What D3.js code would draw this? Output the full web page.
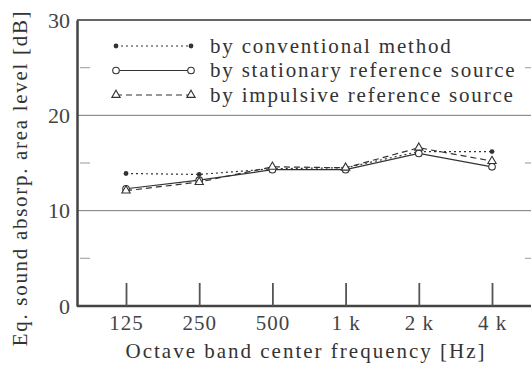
<!DOCTYPE html>
<html>
<head>
<meta charset="utf-8">
<script src="https://cdn.jsdelivr.net/npm/d3@7"></script>
<style>
  body { margin: 0; background: #fff; }
  text { font-family: "Liberation Serif", "Times New Roman", serif; fill: #333; }
</style>
</head>
<body>
<div class="visHolder"></div>
<script>
// data
var bands = ["125", "250", "500", "1 k", "2 k", "4 k"];
var conventional = [13.9, 13.8, 14.4, 14.5, 16.2, 16.2];
var stationary = [12.3, 13.2, 14.3, 14.3, 16.0, 14.6];
var impulsive = [12.1, 13.0, 14.6, 14.5, 16.6, 15.2];
var yTicks = [0, 10, 20, 30];
var yMinor = [5, 15, 25];
var legendLabels = ["by conventional method", "by stationary reference source", "by impulsive reference source"];

var W = 531, H = 368;
var plotLeft = 77, plotRight = 531, plotTop = 20, plotBottom = 306;

var svg = d3.select(".visHolder")
    .append("svg")
    .attr("width", W)
    .attr("height", H);

var x = d3.scalePoint().domain(bands).range([126, 492]);
var y = d3.scaleLinear().domain([0, 30]).range([plotBottom, plotTop]);

// gridlines at 10 and 20
svg.selectAll(".grid")
    .data([10, 20])
    .enter()
    .append("line")
    .attr("x1", plotLeft).attr("x2", plotRight)
    .attr("y1", (d) => y(d)).attr("y2", (d) => y(d))
    .style("stroke", "#777")
    .style("stroke-width", 1);

// top frame line
svg.append("line")
    .attr("x1", plotLeft).attr("x2", plotRight)
    .attr("y1", y(30)).attr("y2", y(30))
    .style("stroke", "#666")
    .style("stroke-width", 2);

// minor ticks left and right
svg.selectAll(".minorL")
    .data(yMinor)
    .enter()
    .append("line")
    .attr("x1", plotLeft + 3).attr("x2", plotLeft + 13)
    .attr("y1", (d) => y(d)).attr("y2", (d) => y(d))
    .style("stroke", "#aaa")
    .style("stroke-width", 1.2);

svg.selectAll(".minorR")
    .data(yMinor)
    .enter()
    .append("line")
    .attr("x1", plotRight - 6).attr("x2", plotRight)
    .attr("y1", (d) => y(d)).attr("y2", (d) => y(d))
    .style("stroke", "#aaa")
    .style("stroke-width", 1.2);

// y axis
var yAxis = svg.append("g")
    .attr("transform", `translate(${plotLeft},0)`)
    .call(d3.axisLeft(y).tickValues(yTicks).tickSize(0).tickPadding(7));
yAxis.select(".domain").style("stroke", "#444").style("stroke-width", 2.5);
yAxis.selectAll("text").style("font-size", "22px").style("fill", "#444");

// x axis with ticks pointing inward
var xAxis = svg.append("g")
    .attr("transform", `translate(0,${plotBottom})`)
    .call(d3.axisBottom(x).tickSize(-23).tickPadding(8).tickSizeOuter(0));
xAxis.select(".domain").attr("d", `M${plotLeft},0H${plotRight}`).style("stroke", "#444").style("stroke-width", 2.5);
xAxis.selectAll(".tick line").style("stroke", "#555").style("stroke-width", 1.8);
xAxis.selectAll("text").style("font-size", "21px").style("fill", "#444")
    .style("letter-spacing", "1px").attr("dy", "0.75em");

// axis titles
svg.append("text")
    .text("Octave band center frequency  [Hz]")
    .attr("x", 306)
    .attr("y", 358)
    .style("text-anchor", "middle")
    .style("font-size", "21px")
    .style("letter-spacing", "2px");

svg.append("text")
    .text("Eq. sound absorp. area level [dB]")
    .attr("transform", "translate(27,178) rotate(-90)")
    .style("text-anchor", "middle")
    .style("font-size", "21px")
    .style("letter-spacing", "1.7px");

var series = [
    { name: legendLabels[0], values: conventional, dash: "2,3", marker: "dot" },
    { name: legendLabels[1], values: stationary, dash: null, marker: "circle" },
    { name: legendLabels[2], values: impulsive, dash: "6,4", marker: "triangle" }
];

var line = d3.line()
    .x((d, i) => x(bands[i]))
    .y((d) => y(d));

function drawMarker(g, type, cx, cy) {
    if (type === "dot") {
        g.append("circle").attr("cx", cx).attr("cy", cy).attr("r", 2.4)
            .style("fill", "#333");
    } else if (type === "circle") {
        g.append("circle").attr("cx", cx).attr("cy", cy).attr("r", 3.3)
            .style("fill", "#fff").style("stroke", "#333").style("stroke-width", 1.1);
    } else {
        g.append("path")
            .attr("d", d3.symbol().type(d3.symbolTriangle).size(30))
            .attr("transform", `translate(${cx},${cy})`)
            .style("fill", "#fff").style("stroke", "#333").style("stroke-width", 1.1);
    }
}

series.forEach((s) => {
    svg.append("path")
        .datum(s.values)
        .attr("d", line)
        .style("fill", "none")
        .style("stroke", "#333")
        .style("stroke-width", 1.2)
        .style("stroke-dasharray", s.dash);
});

series.forEach((s) => {
    var g = svg.append("g");
    s.values.forEach((v, i) => drawMarker(g, s.marker, x(bands[i]), y(v)));
});

// legend
var legend = svg.append("g").attr("id", "legend");
series.forEach((s, i) => {
    var ly = 46 + i * 24.5;
    legend.append("line")
        .attr("x1", 116).attr("x2", 191)
        .attr("y1", ly).attr("y2", ly)
        .style("stroke", "#333")
        .style("stroke-width", 1.2)
        .style("stroke-dasharray", s.dash);
    drawMarker(legend, s.marker, 116, ly);
    drawMarker(legend, s.marker, 191, ly);
    legend.append("text")
        .text(s.name)
        .attr("x", 210)
        .attr("y", ly)
        .attr("dy", "0.33em")
        .style("font-size", "21px")
        .style("letter-spacing", "1.8px");
});
</script>
</body>
</html>
